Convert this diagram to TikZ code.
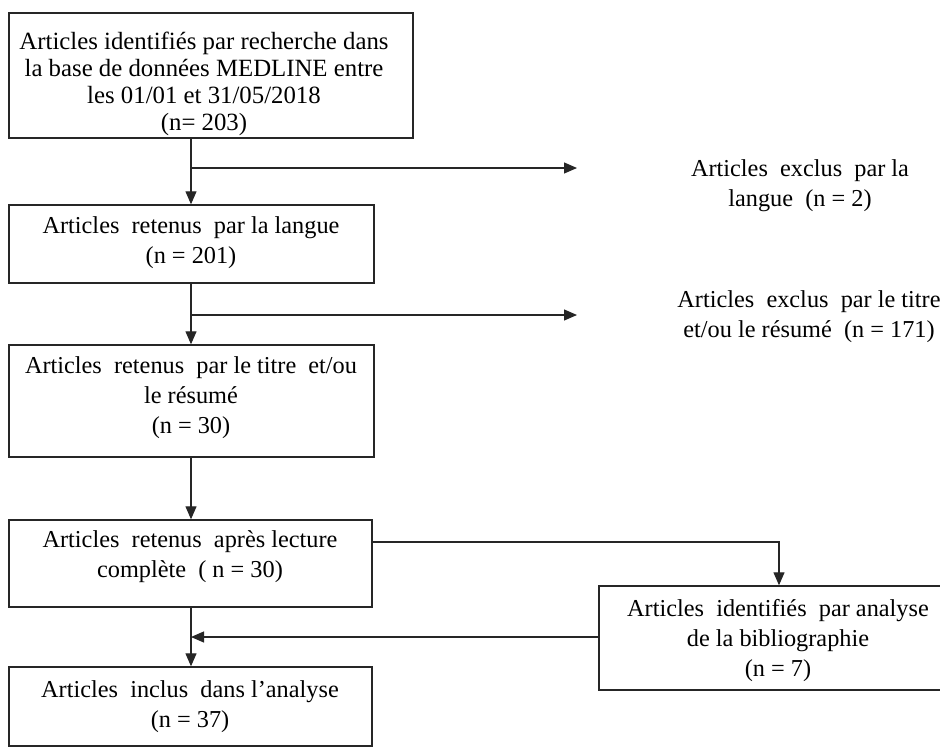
\documentclass[tikz,border=0pt]{standalone}
\usepackage{fontspec}
\setmainfont{Liberation Serif}
\usetikzlibrary{arrows.meta}
\begin{document}
\begin{tikzpicture}[x=1pt,y=-1pt,
  box/.style={draw=black!85, line width=1.4pt, inner sep=0pt},
  txt/.style={align=center, inner sep=0pt, font=\fontsize{24.3}{30}\selectfont},
  txtone/.style={align=center, inner sep=0pt, font=\fontsize{24.8}{26.8}\selectfont},
  conn/.style={draw=black!85, line width=1.2pt},
  arr/.style={conn, -{Triangle[length=13pt,width=11pt]}}
]
\useasboundingbox (0,0) rectangle (940,752);
\clip (0,0) rectangle (940,752);
\fill[white] (0,0) rectangle (940,752);

% boxes
\node[box, minimum width=404pt, minimum height=125pt] (b1) at (211,75.5) {};
\node[box, minimum width=365pt, minimum height=78pt] (b2) at (191.5,244) {};
\node[box, minimum width=365pt, minimum height=112pt] (b3) at (191.5,401) {};
\node[box, minimum width=363pt, minimum height=87pt] (b4) at (190.5,563.5) {};
\node[box, minimum width=363pt, minimum height=79pt] (b5) at (190.5,706.5) {};
\node[box, minimum width=360pt, minimum height=104pt] (b6) at (779,638) {};

% texts
\node[txtone] (t1) at (204,84) {Articles identifiés par recherche dans\\la base de données MEDLINE entre\\les 01/01 et 31/05/2018\\(n= 203)};
\node[txt] (t2) at (191,243) {Articles\ \ retenus\ \ par la langue\\(n = 201)};
\node[txt] (t3) at (191,398) {Articles\ \ retenus\ \ par le titre\ \ et/ou\\le résumé\\(n = 30)};
\node[txt] (t4) at (190,557) {Articles\ \ retenus\ \ après lecture\\complète\ \ ( n = 30)};
\node[txt] (t5) at (190,707) {Articles\ \ inclus\ \ dans l’analyse\\(n = 37)};
\node[txt] (t6) at (778,641) {Articles\ \ identifiés\ \ par analyse\\de la bibliographie\\(n = 7)};
\node[txt] (x1) at (800,186) {Articles\ \ exclus\ \ par la\\langue\ \ (n = 2)};
\node[txt] (x2) at (809,317) {Articles\ \ exclus\ \ par le titre\\et/ou le résumé\ \ (n = 171)};

% connector coordinates
\coordinate (j1) at (191,168);
\coordinate (e1) at (577,168);
\coordinate (j2) at (191,315);
\coordinate (e2) at (577,315);
\coordinate (j3) at (191,637);
\coordinate (k4) at (372,542);
\coordinate (k6) at (779,542);

% connectors
\draw[arr] (b1.south -| j1) -- (b2.north -| j1);
\draw[arr] (j1) -- (e1);
\draw[arr] (b2.south -| j2) -- (b3.north -| j2);
\draw[arr] (j2) -- (e2);
\draw[arr] (b3.south -| j2) -- (b4.north -| j2);
\draw[arr] (b4.south -| j3) -- (b5.north -| j3);
\draw[arr] (k4) -- (k6) -- (b6.north -| k6);
\draw[arr] (b6.west |- j3) -- (j3);
\end{tikzpicture}
\end{document}
